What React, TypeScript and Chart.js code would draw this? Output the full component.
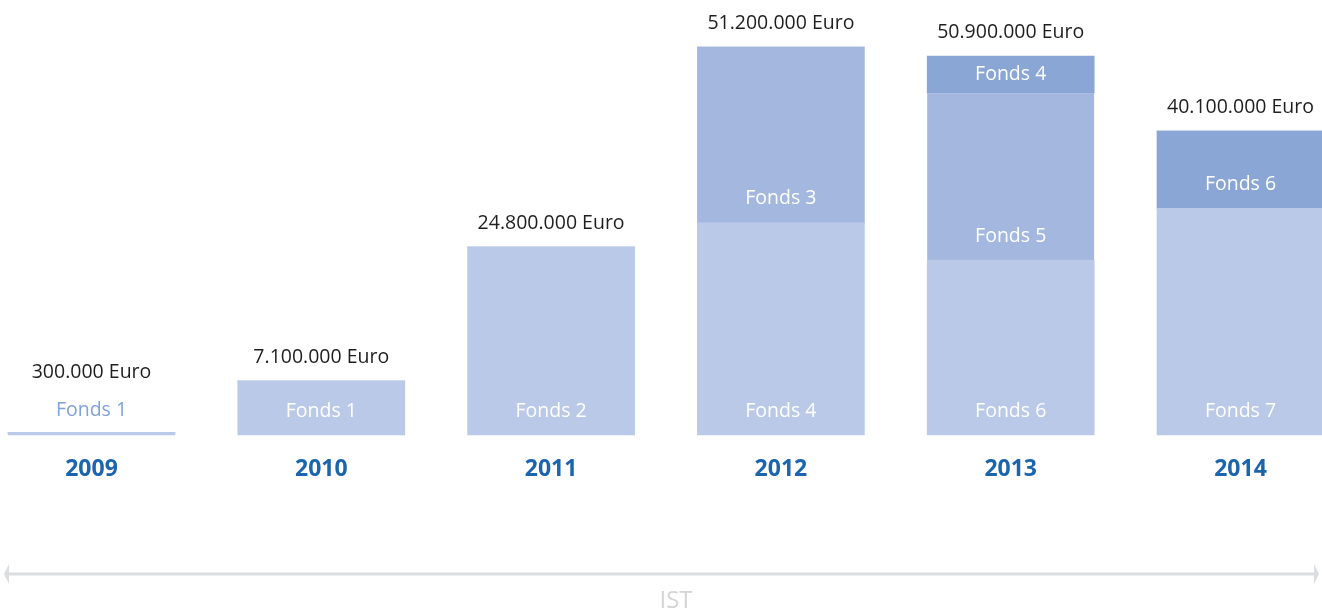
import React, { useEffect, useRef } from "react";
import { Chart, registerables } from "chart.js";

Chart.register(...registerables);

const years = ["2009", "2010", "2011", "2012", "2013", "2014"];
const totalLabels = [
  "300.000 Euro",
  "7.100.000 Euro",
  "24.800.000 Euro",
  "51.200.000 Euro",
  "50.900.000 Euro",
  "40.100.000 Euro",
];
// values in million Euro
const layer1 = [0.3, 7.1, 24.8, 28.0, 23.1, 29.9];
const layer1Names = ["Fonds 1", "Fonds 1", "Fonds 2", "Fonds 4", "Fonds 6", "Fonds 7"];
const layer2 = [0, 0, 0, 23.2, 22.0, 10.2];
const layer2Names = ["", "", "", "Fonds 3", "Fonds 5", "Fonds 6"];
const layer3 = [0, 0, 0, 0, 4.9, 0];
const layer3Names = ["", "", "", "", "Fonds 4", ""];
const axisCaption = "IST";

const LIGHT = "#B9C9E7";
const MID = "#A3B7DF";
const DARK = "#8AA6D5";
const FONT = "'Open Sans', 'Noto Sans', sans-serif";

const labelPlugin = {
  id: "fundLabels",
  afterDatasetsDraw(chart: any) {
    const ctx = chart.ctx;
    const names = [layer1Names, layer2Names, layer3Names];
    ctx.save();
    ctx.textAlign = "center";
    ctx.textBaseline = "middle";
    const xScale = chart.scales.x;
    years.forEach((year, i) => {
      let topY = Infinity;
      let segLabelAbove: number | null = null;
      for (let d = 0; d < 3; d++) {
        const meta = chart.getDatasetMeta(d);
        const el: any = meta.data[i];
        const val = chart.data.datasets[d].data[i] as number;
        if (!el || !val) continue;
        const top = Math.min(el.y, el.base);
        const bottom = Math.max(el.y, el.base);
        topY = Math.min(topY, top);
        const name = names[d][i];
        if (!name) continue;
        ctx.font = `19.5px ${FONT}`;
        if (bottom - top < 20) {
          const ly = top - 22;
          segLabelAbove = ly;
          ctx.fillStyle = "#7FA2D9";
          ctx.fillText(name, el.x, ly);
        } else {
          const ly = Math.max(bottom - 24, (top + bottom) / 2);
          ctx.fillStyle = "#FFFFFF";
          ctx.fillText(name, el.x, ly);
        }
      }
      const x = xScale.getPixelForValue(i);
      const ty = segLabelAbove !== null ? segLabelAbove - 38 : topY - 24;
      ctx.font = `19.5px ${FONT}`;
      ctx.fillStyle = "#1E1E1E";
      ctx.fillText(totalLabels[i], x, ty);
      ctx.font = `bold 23px ${FONT}`;
      ctx.fillStyle = "#1B65AE";
      ctx.fillText(year, x, 469);
    });

    // bottom arrow
    const w = chart.width;
    const ay = 574;
    ctx.strokeStyle = "#DCDDE0";
    ctx.fillStyle = "#DCDDE0";
    ctx.lineWidth = 3;
    ctx.beginPath();
    ctx.moveTo(8, ay);
    ctx.lineTo(w - 8, ay);
    ctx.stroke();
    ctx.beginPath();
    ctx.moveTo(4, ay);
    ctx.lineTo(9, ay - 10);
    ctx.lineTo(9, ay + 10);
    ctx.closePath();
    ctx.fill();
    ctx.beginPath();
    ctx.moveTo(w - 3, ay);
    ctx.lineTo(w - 8, ay - 10);
    ctx.lineTo(w - 8, ay + 10);
    ctx.closePath();
    ctx.fill();
    ctx.font = `24px ${FONT}`;
    ctx.fillStyle = "#D3D4D6";
    ctx.fillText(axisCaption, 676, 601);
    ctx.restore();
  },
};

export default function App() {
  const ref = useRef<HTMLCanvasElement | null>(null);
  useEffect(() => {
    if (!ref.current) return;
    const chart = new Chart(ref.current, {
      type: "bar",
      data: {
        labels: years,
        datasets: [
          {
            data: layer1,
            backgroundColor: LIGHT,
            barThickness: 167,
            clip: false as any,
          },
          {
            data: layer2,
            backgroundColor: [LIGHT, LIGHT, LIGHT, MID, MID, DARK],
            borderColor: "#8FAADA",
            borderSkipped: false,
            borderWidth: (c: any) =>
              c.dataIndex === 4 ? { top: 0, left: 0, right: 0, bottom: 1 } : 0,
            barThickness: 167,
            clip: false as any,
          },
          {
            data: layer3,
            backgroundColor: DARK,
            barThickness: 167,
            clip: false as any,
          },
        ],
      },
      options: {
        animation: false,
        responsive: false,
        devicePixelRatio: 1,
        layout: { padding: { left: 91.5, right: 81.5, top: 47, bottom: 179 } },
        plugins: { legend: { display: false }, tooltip: { enabled: false } },
        scales: {
          x: {
            stacked: true,
            offset: false,
            display: false,
            grid: { display: false, offset: false },
          },
          y: { stacked: true, display: false, min: 0, max: 51.2 },
        },
      },
      plugins: [labelPlugin],
    });
    return () => chart.destroy();
  }, []);
  return (
    <div style={{ position: "fixed", left: 0, top: 0, width: 1322, height: 614, background: "#fff" }}>
      <canvas ref={ref} width={1322} height={614} />
    </div>
  );
}
